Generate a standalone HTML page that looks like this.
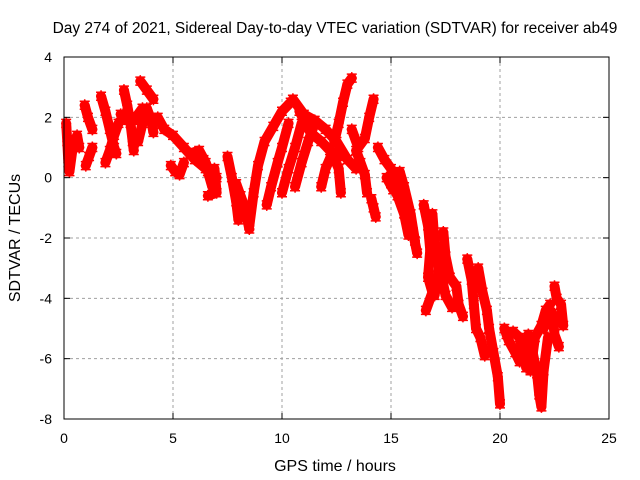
<!DOCTYPE html>
<html><head><meta charset="utf-8"><style>
body{margin:0;background:#fff;}
svg{display:block;font-family:"Liberation Sans",sans-serif;}
</style></head><body>
<svg id="chart" width="640" height="480" viewBox="0 0 640 480" xmlns="http://www.w3.org/2000/svg">
<rect width="640" height="480" fill="#fff"/>
<text x="335" y="33" font-size="15.5" text-anchor="middle">Day 274 of 2021, Sidereal Day-to-day VTEC variation (SDTVAR) for receiver ab49</text>
<g id="grid"></g>
<g id="series"></g>
<rect x="64" y="57" width="545" height="362" fill="none" stroke="#000" stroke-width="1"/>
<g id="axes"></g>
<text x="335" y="471" font-size="16" text-anchor="middle">GPS time / hours</text>
<text transform="translate(20,238) rotate(-90)" font-size="16" text-anchor="middle">SDTVAR / TECUs</text>
</svg>
<script>
const xTicks=[0,5,10,15,20,25];
const yTicks=[-8,-6,-4,-2,0,2,4];
// arcs: each is a list of [hour, TECU] samples
const arc1=[[0.1,1.8],[0.15,1.2],[0.2,0.5],[0.25,0.2],[0.4,1.0],[0.6,1.4],[0.7,1.0]];
const arc2=[[0.95,2.4],[1.1,2.0],[1.3,1.6]];
const arc3=[[1.0,0.4],[1.15,0.7],[1.3,1.0]];
const arc4=[[1.7,2.7],[1.9,2.2],[2.1,1.6],[2.3,1.0],[2.4,0.8]];
const arc5=[[1.9,0.5],[2.1,0.9],[2.3,1.4],[2.5,1.8]];
const arc6=[[2.75,2.9],[2.9,2.4],[3.05,1.8],[3.15,1.2],[3.2,0.9]];
const arc7=[[3.5,3.2],[3.8,2.9],[4.1,2.6]];
const arc8=[[3.4,1.2],[3.6,1.8],[3.8,2.3],[4.0,1.9],[4.1,1.5]];
const arc9=[[4.3,2.0],[4.6,1.6],[5.0,1.4],[5.5,1.0],[6.0,0.6],[6.5,0.3],[7.0,0.0]];
const arc10=[[4.9,0.4],[5.1,0.2],[5.3,0.1],[5.5,0.5]];
const arc11=[[6.4,0.6],[6.6,0.2],[6.8,-0.3],[6.9,0.3],[7.0,-0.5],[6.6,-0.6]];
const arc12=[[7.5,0.7],[7.7,0.0],[7.9,-0.8],[8.0,-1.4]];
const arc13=[[7.9,-0.2],[8.1,-0.6],[8.3,-1.0],[8.5,-1.7]];
const arc14=[[8.5,-1.6],[8.7,-0.5],[8.9,0.4],[9.2,1.2],[9.6,1.7],[10.0,2.2],[10.4,2.5]];
const arc15=[[9.3,-0.9],[9.5,-0.3],[9.8,0.5],[10.0,1.0],[10.3,1.8]];
const arc16=[[10.0,-0.5],[10.3,0.3],[10.6,1.0],[10.9,1.8]];
const arc17=[[10.6,-0.3],[10.9,0.5],[11.2,1.2],[11.5,1.8]];
const arc18=[[10.5,2.6],[11.0,2.1],[11.5,1.9],[12.0,1.6],[12.5,1.2],[13.0,0.6],[13.4,0.3]];
const arc19=[[11.8,-0.3],[12.0,0.3],[12.3,0.8],[12.6,0.3],[12.7,-0.5]];
const arc20=[[12.4,1.2],[12.6,1.8],[12.8,2.5],[13.0,3.1],[13.2,3.3]];
const arc21=[[13.2,1.6],[13.5,1.0],[13.8,1.3],[14.0,2.0],[14.2,2.6]];
const arc22=[[13.4,0.9],[13.6,0.5],[13.8,0.1],[13.9,-0.5]];
const arc23=[[14.1,-0.7],[14.2,-1.0],[14.3,-1.3]];
const arc24=[[14.4,1.0],[14.7,0.6],[15.0,0.3],[15.4,-0.2],[15.7,-0.8],[16.0,-1.8],[16.2,-2.5]];
const arc25=[[14.8,0.0],[15.1,-0.4],[15.4,0.2],[15.6,-0.3],[15.9,-1.2],[16.1,-2.1]];
const arc26=[[16.5,-0.9],[16.7,-1.6],[16.8,-2.4],[16.7,-3.3],[16.9,-3.8],[16.6,-4.4]];
const arc27=[[16.9,-1.2],[17.0,-2.2],[17.2,-3.0],[17.0,-3.9]];
const arc28=[[17.4,-1.8],[17.5,-2.6],[17.7,-3.3],[18.0,-3.6],[18.1,-4.2],[18.3,-4.6]];
const arc29=[[17.3,-3.2],[17.5,-3.9],[17.8,-4.3]];
const arc30=[[18.5,-2.7],[18.7,-3.4],[18.8,-4.2],[18.9,-5.0],[19.1,-5.3],[19.3,-5.9]];
const arc31=[[19.0,-3.0],[19.2,-3.8],[19.4,-4.4],[19.5,-5.0],[19.7,-5.8],[19.9,-6.6],[20.0,-7.5]];
const arc32=[[20.2,-5.0],[20.4,-5.4],[20.7,-5.8],[20.9,-6.1],[21.1,-5.5],[21.2,-6.3]];
const arc33=[[21.3,-5.2],[21.5,-5.8],[21.7,-6.5],[21.8,-7.2],[21.9,-7.6],[22.0,-6.4],[22.2,-5.3]];
const arc34=[[22.0,-5.0],[22.2,-4.7],[22.4,-4.5],[22.5,-5.2],[22.7,-5.6]];
const arc35=[[22.5,-3.6],[22.6,-4.0],[22.8,-4.2],[22.9,-4.9]];
const arc36=[[10.8,2.2],[11.3,1.5],[11.8,1.2],[12.2,0.9],[12.6,0.7]];
const arc37=[[15.0,-0.2],[15.3,-0.6],[15.6,-1.2],[15.8,-1.9]];
const arc38=[[20.3,-5.2],[20.6,-5.1],[20.9,-5.3],[21.1,-5.9]];
const arc39=[[21.4,-6.4],[21.6,-5.3],[21.9,-4.9],[22.1,-4.4],[22.3,-4.2]];
const arc40=[[2.6,2.1],[2.9,1.9],[3.2,1.9],[3.6,2.3],[4.0,2.0]];
const arc41=[[5.8,0.8],[6.2,0.9],[6.5,0.5],[6.8,-0.1]];
const arcs=[arc1,arc2,arc3,arc4,arc5,arc6,arc7,arc8,arc9,arc10,arc11,arc12,arc13,arc14,arc15,arc16,arc17,arc18,arc19,arc20,arc21,arc22,arc23,arc24,arc25,arc26,arc27,arc28,arc29,arc30,arc31,arc32,arc33,arc34,arc35,arc36,arc37,arc38,arc39,arc40,arc41];

const NS='http://www.w3.org/2000/svg';
const X0=64,X1=609,Y0=419,Y1=57;
const xs=t=>X0+(t-0)/(25-0)*(X1-X0);
const ys=v=>Y0-(v+8)/(12)*(Y0-Y1);
function mk(tag,attrs,parent){const e=document.createElementNS(NS,tag);for(const k in attrs)e.setAttribute(k,attrs[k]);parent.appendChild(e);return e;}
const grid=document.getElementById('grid'),axes=document.getElementById('axes'),series=document.getElementById('series');
xTicks.forEach(t=>{
  const x=xs(t);
  if(t>0&&t<25){const g=mk('line',{x1:x,x2:x,y1:Y1,y2:Y0,stroke:'#a0a0a0','stroke-dasharray':'3,3'},grid);}
  const a=mk('line',{x1:x,x2:x,y1:Y0,y2:Y0-6,stroke:'#000'},axes);
  const b=mk('line',{x1:x,x2:x,y1:Y1,y2:Y1+6,stroke:'#000'},axes);
  const l=mk('text',{x:x,y:443,'font-size':14,'text-anchor':'middle'},axes);l.textContent=t;
});
yTicks.forEach(v=>{
  const y=ys(v);
  if(v>-8&&v<4){const g=mk('line',{x1:X0,x2:X1,y1:y,y2:y,stroke:'#a0a0a0','stroke-dasharray':'3,3'},grid);}
  const a=mk('line',{x1:X0,x2:X0+6,y1:y,y2:y,stroke:'#000'},axes);
  const b=mk('line',{x1:X1,x2:X1-6,y1:y,y2:y,stroke:'#000'},axes);
  const l=mk('text',{x:52,y:y+5,'font-size':14,'text-anchor':'end'},axes);l.textContent=v;
});
arcs.forEach(arc=>{
  const p=mk('polyline',{points:arc.map(d=>xs(d[0])+','+ys(d[1])).join(' '),fill:'none',stroke:'#ff0000','stroke-width':10,'stroke-linecap':'round','stroke-linejoin':'round'},series);
  
  
  arc.forEach(d=>{
    const x=xs(d[0]),y=ys(d[1]);
    const m=mk('path',{d:`M${x-5},${y}H${x+5}M${x},${y-6}V${y+6}M${x-5},${y-4}H${x+5}M${x-5},${y+4}H${x+5}`,stroke:'#ff0000','stroke-width':1.5},series);
    
    
  });
});
</script>
</body></html>
